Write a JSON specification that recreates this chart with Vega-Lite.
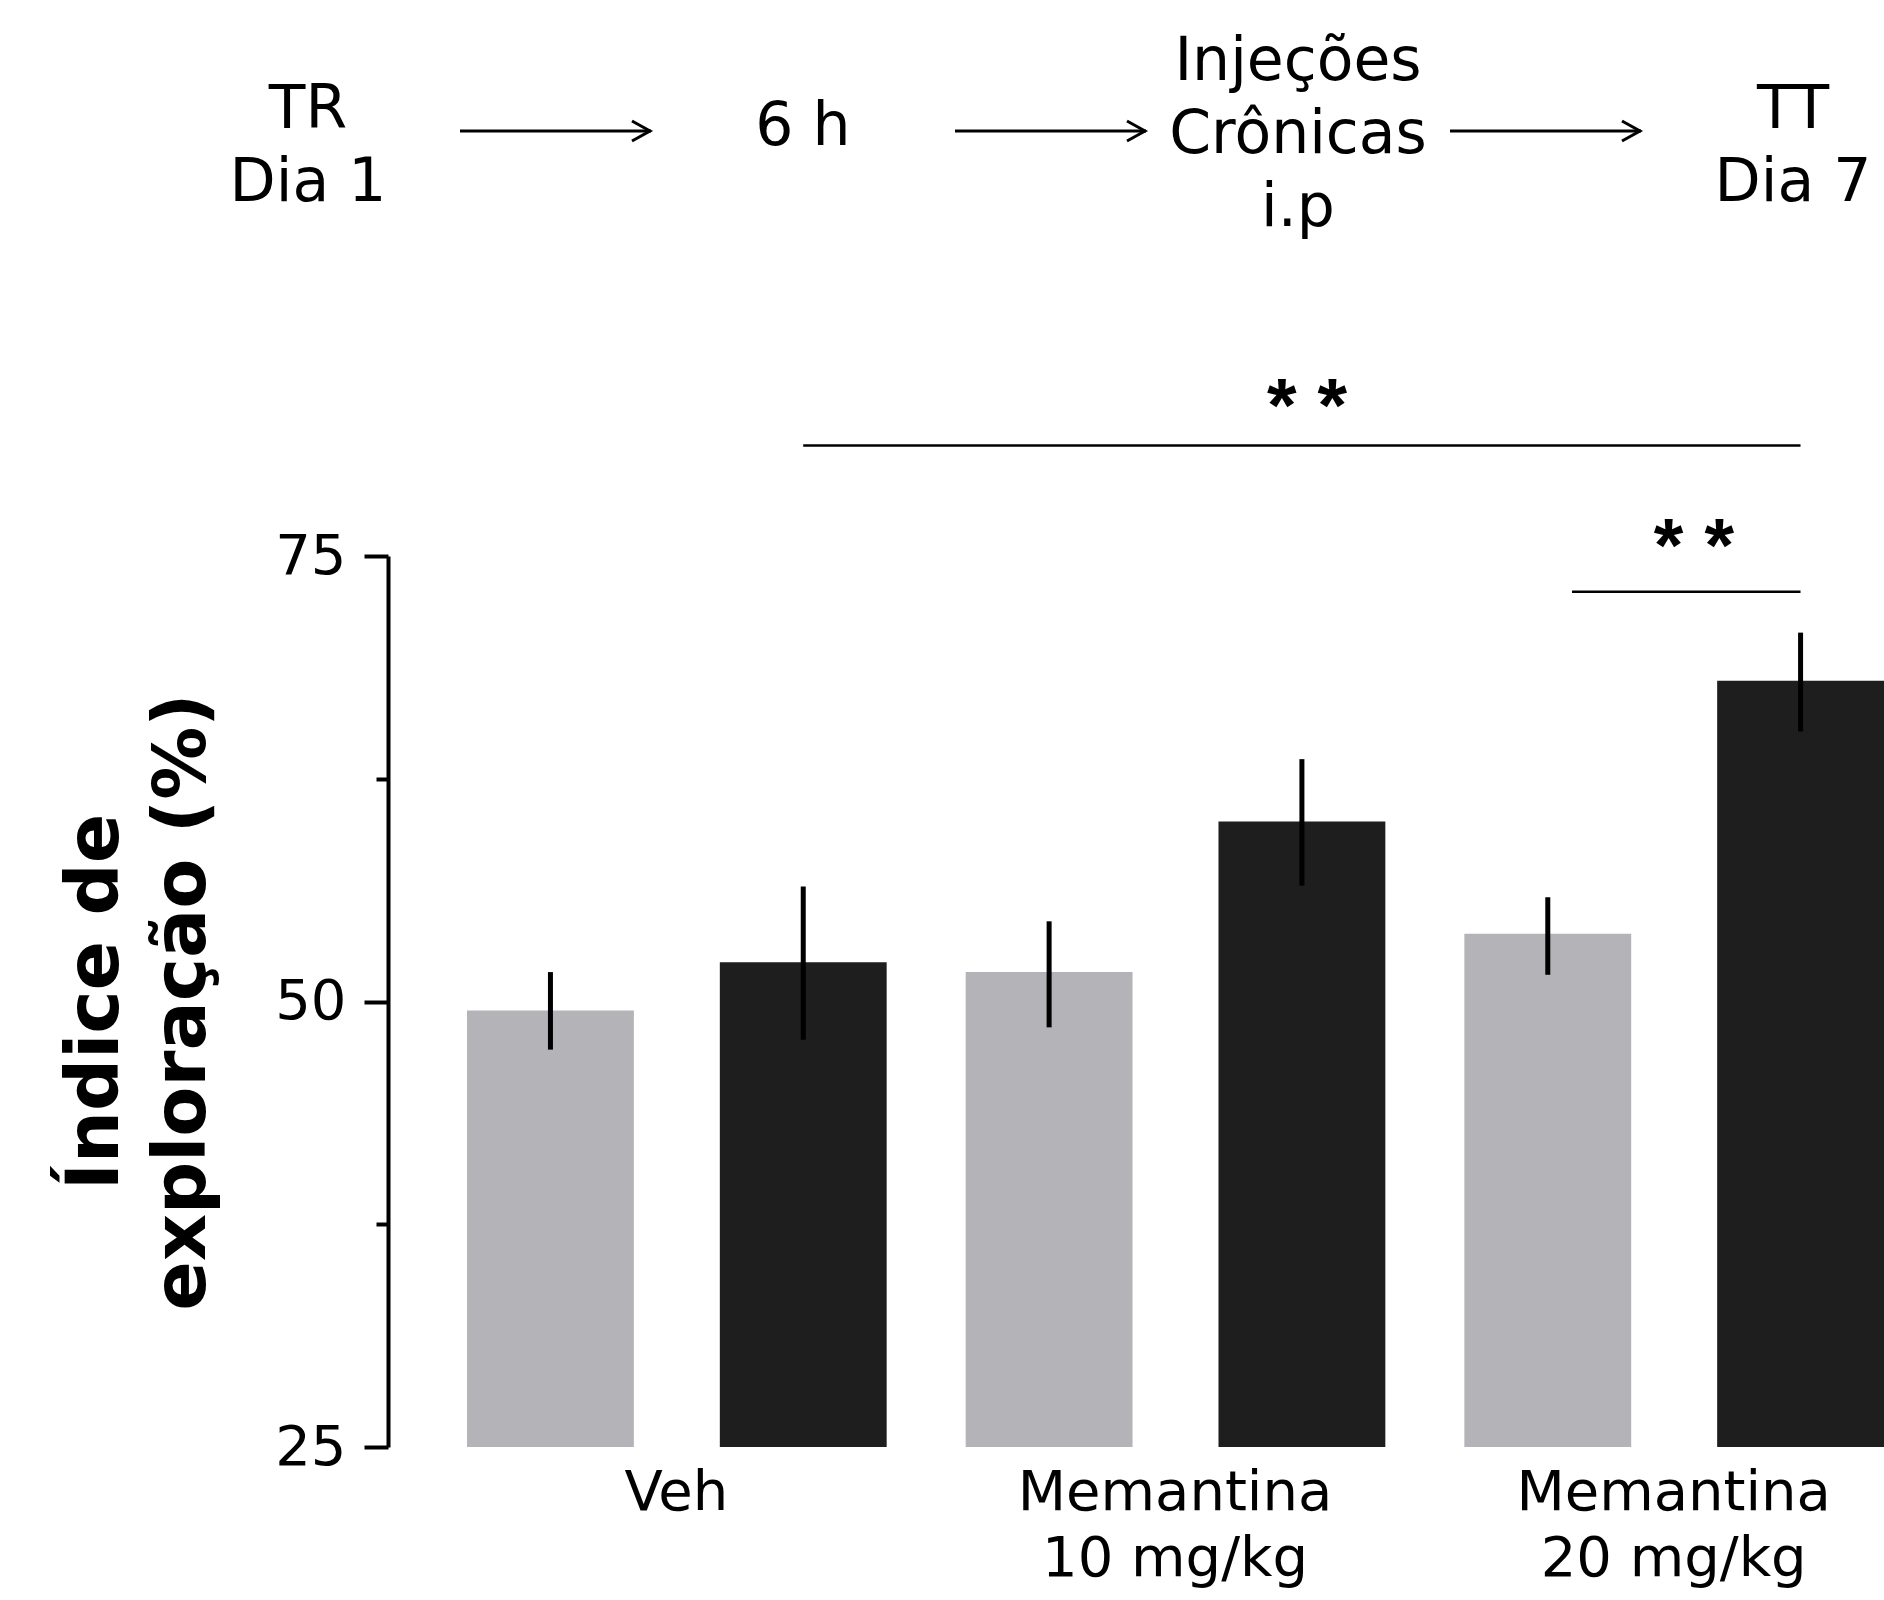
{
  "$schema": "https://vega.github.io/schema/vega-lite/v6.json",
  "background": "white",
  "padding": {"left": 59, "top": 0, "right": 0, "bottom": 8},
  "config": {"view": {"stroke": null}, "font": "DejaVu Sans"},
  "bounds": "flush",
  "spacing": 294,
  "resolve": {"scale": {"x": "independent", "y": "independent"}},
  "datasets": {
    "etapas": [
      {"etapa": "TR", "texto": "TR\nDia 1"},
      {"etapa": "6 h", "texto": "6 h"},
      {"etapa": "Injeções", "texto": "Injeções\nCrônicas\ni.p"},
      {"etapa": "TT", "texto": "TT\nDia 7"}
    ],
    "setas": [
      {"de": "TR", "para": "6 h"},
      {"de": "6 h", "para": "Injeções"},
      {"de": "Injeções", "para": "TT"}
    ],
    "barras": [
      {"grupo": "Veh", "sessao": "TR", "media": 49.5, "inferior": 47.3, "superior": 51.65},
      {"grupo": "Veh", "sessao": "TT", "media": 52.2, "inferior": 47.85, "superior": 56.45},
      {"grupo": "Memantina 10 mg/kg", "sessao": "TR", "media": 51.65, "inferior": 48.55, "superior": 54.5},
      {"grupo": "Memantina 10 mg/kg", "sessao": "TT", "media": 60.1, "inferior": 56.5, "superior": 63.6},
      {"grupo": "Memantina 20 mg/kg", "sessao": "TR", "media": 53.8, "inferior": 51.5, "superior": 55.85},
      {"grupo": "Memantina 20 mg/kg", "sessao": "TT", "media": 68.0, "inferior": 65.15, "superior": 70.7}
    ],
    "significancia": [
      {"comparacao": "Veh TT x Memantina 20 TT", "de": "Veh", "para": "Memantina 20 mg/kg", "centro": "Memantina 10 mg/kg", "nivel": 81.2, "texto": "* *"},
      {"comparacao": "Memantina 20 TR x TT", "de": "Memantina 20 mg/kg", "para": "Memantina 20 mg/kg", "centro": "Memantina 20 mg/kg", "nivel": 73.0, "texto": "* *"}
    ]
  },
  "vconcat": [
    {
      "width": 1496,
      "height": 262,
      "layer": [
        {
          "data": {"name": "etapas"},
          "transform": [{"filter": "length(split(datum.texto, '\\n')) == 2"}],
          "mark": {"type": "text", "font": "DejaVu Sans", "fontSize": 60, "lineHeight": 73, "lineBreak": "\n", "baseline": "middle", "align": "center", "color": "black", "dy": -21},
          "encoding": {
            "x": {"field": "etapa", "type": "nominal", "scale": {"type": "point", "domain": ["TR", "6 h", "Injeções", "TT"], "range": [-80, 1405], "padding": 0}, "axis": null},
            "y": {"datum": 0, "type": "quantitative", "scale": {"domain": [-1, 1]}, "axis": null},
            "text": {"field": "texto"}
          }
        },
        {
          "data": {"name": "etapas"},
          "transform": [{"filter": "length(split(datum.texto, '\\n')) == 1"}],
          "mark": {"type": "text", "font": "DejaVu Sans", "fontSize": 60, "lineHeight": 73, "lineBreak": "\n", "baseline": "middle", "align": "center", "color": "black", "dy": -4},
          "encoding": {
            "x": {"field": "etapa", "type": "nominal", "scale": {"type": "point", "domain": ["TR", "6 h", "Injeções", "TT"], "range": [-80, 1405], "padding": 0}, "axis": null},
            "y": {"datum": 0, "type": "quantitative", "scale": {"domain": [-1, 1]}, "axis": null},
            "text": {"field": "texto"}
          }
        },
        {
          "data": {"name": "etapas"},
          "transform": [{"filter": "length(split(datum.texto, '\\n')) == 3"}],
          "mark": {"type": "text", "font": "DejaVu Sans", "fontSize": 60, "lineHeight": 73, "lineBreak": "\n", "baseline": "middle", "align": "center", "color": "black", "dy": -69},
          "encoding": {
            "x": {"field": "etapa", "type": "nominal", "scale": {"type": "point", "domain": ["TR", "6 h", "Injeções", "TT"], "range": [-80, 1405], "padding": 0}, "axis": null},
            "y": {"datum": 0, "type": "quantitative", "scale": {"domain": [-1, 1]}, "axis": null},
            "text": {"field": "texto"}
          }
        },
        {
          "data": {"name": "setas"},
          "mark": {"type": "rule", "strokeWidth": 3, "color": "black", "xOffset": 152, "x2Offset": -152},
          "encoding": {
            "x": {"field": "de", "type": "nominal", "scale": {"type": "point", "domain": ["TR", "6 h", "Injeções", "TT"], "range": [-80, 1405], "padding": 0}, "axis": null},
            "x2": {"field": "para"},
            "y": {"datum": 0, "type": "quantitative", "scale": {"domain": [-1, 1]}, "axis": null}
          }
        },
        {
          "data": {"name": "setas"},
          "mark": {"type": "point", "shape": "M -1.8 -1 L 0 0 L -1.8 1", "size": 400, "filled": false, "strokeWidth": 3, "color": "black", "opacity": 1, "xOffset": -153},
          "encoding": {
            "x": {"field": "para", "type": "nominal", "scale": {"type": "point", "domain": ["TR", "6 h", "Injeções", "TT"], "range": [-80, 1405], "padding": 0}, "axis": null},
            "y": {"datum": 0, "type": "quantitative", "scale": {"domain": [-1, 1]}, "axis": null}
          }
        }
      ]
    },
    {
      "width": 1496,
      "height": 891,
      "layer": [
        {
          "data": {"name": "barras"},
          "mark": {"type": "bar"},
          "encoding": {
            "x": {
              "field": "grupo", "type": "nominal",
              "scale": {"domain": ["Veh", "Memantina 10 mg/kg", "Memantina 20 mg/kg"], "paddingInner": 0, "paddingOuter": 0},
              "axis": {
                "title": null, "domain": false, "ticks": false, "tickSize": 0, "labelAngle": 0,
                "labelFont": "DejaVu Sans", "labelFontSize": 56, "labelColor": "black", "labelLimit": 1000,
                "labelPadding": 18, "labelLineHeight": 66, "labelOffset": 39,
                "labelExpr": "datum.value == 'Veh' ? 'Veh' : ['Memantina', slice(datum.value, 10)]"
              }
            },
            "xOffset": {"field": "sessao", "type": "nominal", "scale": {"domain": ["TR", "TT"], "paddingInner": 0.34, "paddingOuter": 0.1563, "align": 1}},
            "y": {
              "field": "media", "type": "quantitative",
              "scale": {"domain": [25, 75], "nice": false, "zero": false},
              "axis": {
                "values": [25, 37.5, 50, 62.5, 75],
                "labelExpr": "datum.value % 25 === 0 ? datum.label : ''",
                "grid": false, "labelFlush": false, "labelOverlap": false,
                "title": ["Índice de", "exploração (%)"],
                "titleFont": "DejaVu Sans", "titleFontWeight": "bold", "titleFontSize": 73, "titleLineHeight": 87, "titlePadding": 55, "titleColor": "black",
                "labelFont": "DejaVu Sans", "labelFontSize": 56, "labelColor": "black", "labelPadding": 18,
                "domainColor": "black", "domainWidth": 4, "tickColor": "black", "tickWidth": 4,
                "tickSize": {"condition": {"test": "datum.value % 25 === 0", "value": 24}, "value": 12}
              }
            },
            "y2": {"datum": 25},
            "color": {"field": "sessao", "type": "nominal", "scale": {"domain": ["TR", "TT"], "range": ["#b3b3b8", "#1e1e1e"]}, "legend": null}
          }
        },
        {
          "data": {"name": "barras"},
          "mark": {"type": "rule", "strokeWidth": 5, "color": "black"},
          "encoding": {
            "x": {"field": "grupo", "type": "nominal", "scale": {"domain": ["Veh", "Memantina 10 mg/kg", "Memantina 20 mg/kg"], "paddingInner": 0, "paddingOuter": 0}},
            "xOffset": {"field": "sessao", "type": "nominal", "scale": {"domain": ["TR", "TT"], "paddingInner": 0.34, "paddingOuter": 0.1563, "align": 1}},
            "y": {"field": "inferior", "type": "quantitative", "scale": {"domain": [25, 75], "nice": false, "zero": false}},
            "y2": {"field": "superior"}
          }
        },
        {
          "data": {"name": "significancia"},
          "transform": [{"filter": "datum.de == 'Veh'"}],
          "mark": {"type": "rule", "strokeWidth": 2.5, "color": "black"},
          "encoding": {
            "x": {"field": "de", "type": "nominal", "bandPosition": 0.8326, "scale": {"domain": ["Veh", "Memantina 10 mg/kg", "Memantina 20 mg/kg"], "paddingInner": 0, "paddingOuter": 0}},
            "x2": {"field": "para", "bandPosition": 0.8326},
            "y": {"field": "nivel", "type": "quantitative", "scale": {"domain": [25, 75], "nice": false, "zero": false}}
          }
        },
        {
          "data": {"name": "significancia"},
          "transform": [{"filter": "datum.de != 'Veh'"}],
          "mark": {"type": "rule", "strokeWidth": 2.5, "color": "black"},
          "encoding": {
            "x": {"field": "de", "type": "nominal", "bandPosition": 0.3744, "scale": {"domain": ["Veh", "Memantina 10 mg/kg", "Memantina 20 mg/kg"], "paddingInner": 0, "paddingOuter": 0}},
            "x2": {"field": "para", "bandPosition": 0.8326},
            "y": {"field": "nivel", "type": "quantitative", "scale": {"domain": [25, 75], "nice": false, "zero": false}}
          }
        },
        {
          "data": {"name": "significancia"},
          "transform": [{"filter": "datum.de == 'Veh'"}],
          "mark": {"type": "text", "font": "Liberation Sans", "fontWeight": "bold", "fontSize": 76, "baseline": "alphabetic", "align": "center", "dy": -15, "color": "black"},
          "encoding": {
            "x": {"field": "centro", "type": "nominal", "bandPosition": 0.843, "scale": {"domain": ["Veh", "Memantina 10 mg/kg", "Memantina 20 mg/kg"], "paddingInner": 0, "paddingOuter": 0}},
            "y": {"field": "nivel", "type": "quantitative", "scale": {"domain": [25, 75], "nice": false, "zero": false}},
            "text": {"field": "texto"}
          }
        },
        {
          "data": {"name": "significancia"},
          "transform": [{"filter": "datum.de != 'Veh'"}],
          "mark": {"type": "text", "font": "Liberation Sans", "fontWeight": "bold", "fontSize": 76, "baseline": "alphabetic", "align": "center", "dy": -21, "color": "black"},
          "encoding": {
            "x": {"field": "centro", "type": "nominal", "bandPosition": 0.619, "scale": {"domain": ["Veh", "Memantina 10 mg/kg", "Memantina 20 mg/kg"], "paddingInner": 0, "paddingOuter": 0}},
            "y": {"field": "nivel", "type": "quantitative", "scale": {"domain": [25, 75], "nice": false, "zero": false}},
            "text": {"field": "texto"}
          }
        }
      ]
    }
  ]
}
